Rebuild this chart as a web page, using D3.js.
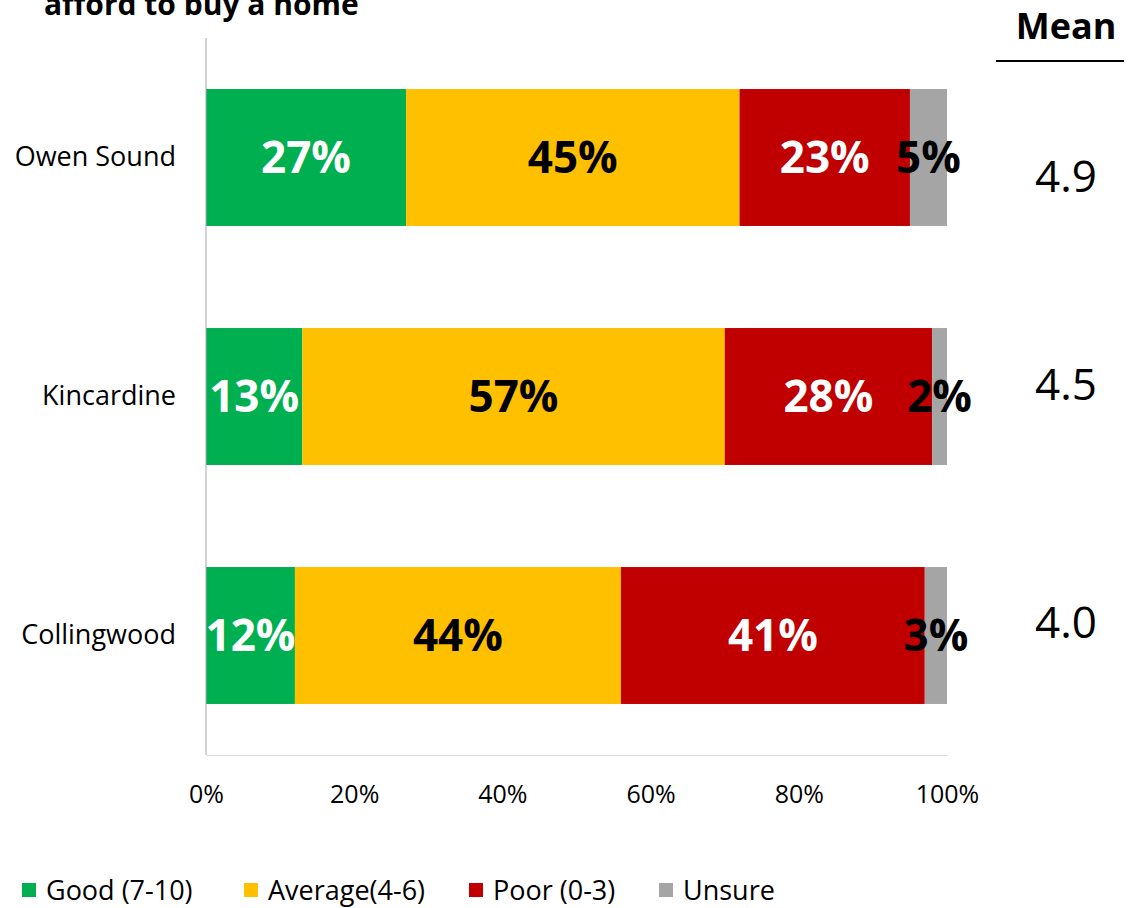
<!DOCTYPE html>
<html>
<head>
<meta charset="utf-8">
<script src="https://cdn.jsdelivr.net/npm/d3@7"></script>
<style>
  html, body { margin: 0; padding: 0; background: #fff; }
  svg { display: block; }
</style>
</head>
<body>
<svg id="chart" width="1137" height="908"></svg>
<script>
const categories = ["Owen Sound", "Kincardine", "Collingwood"];
const seriesNames = ["Good (7-10)", "Average(4-6)", "Poor (0-3)", "Unsure"];
const good = [27, 13, 12];
const average = [45, 57, 44];
const poor = [23, 28, 41];
const unsure = [5, 2, 3];
const means = ["4.9", "4.5", "4.0"];
const tickValues = [0, 20, 40, 60, 80, 100];
const titleLine = "afford to buy a home";

const colors = ["#00B050", "#FFC000", "#C00000", "#A5A5A5"];
const labelColors = ["#ffffff", "#000000", "#ffffff", "#000000"];
const meanOffsets = [19, -12, -13];

const rows = categories.map((c, i) => ({
  cat: c, good: good[i], average: average[i], poor: poor[i], unsure: unsure[i]
}));
const keys = ["good", "average", "poor", "unsure"];
const stacked = d3.stack().keys(keys)(rows);

const svg = d3.select("#chart");
const plotLeft = 206, plotRight = 947, plotTop = 38, plotBottom = 755;

const x = d3.scaleLinear().domain([0, 100]).range([plotLeft, plotRight]);
const y = d3.scaleBand().domain(categories).range([plotTop, plotBottom]).paddingInner(0.427).paddingOuter(0.2135);

// title (partially cut off at top, as in the reference)
svg.append("text")
  .attr("x", 44).attr("y", 15)
  .attr("font-family", "Open Sans, sans-serif")
  .attr("font-weight", "bold")
  .attr("font-size", 30)
  .attr("fill", "#000")
  .text(titleLine);

// bars
const layers = svg.append("g").selectAll("g").data(stacked).join("g")
  .attr("fill", (d, i) => colors[i]);
layers.selectAll("rect").data(d => d).join("rect")
  .attr("x", d => x(d[0]))
  .attr("width", d => x(d[1]) - x(d[0]))
  .attr("y", d => y(d.data.cat))
  .attr("height", y.bandwidth());

// bar labels
stacked.forEach((layer, li) => {
  svg.append("g").selectAll("text").data(layer).join("text")
    .attr("x", d => (x(d[0]) + x(d[1])) / 2)
    .attr("y", d => y(d.data.cat) + y.bandwidth() / 2)
    .attr("dy", "0.36em")
    .attr("text-anchor", "middle")
    .attr("font-family", "Open Sans, sans-serif")
    .attr("font-weight", "bold")
    .attr("font-size", 44)
    .attr("fill", labelColors[li])
    .text(d => (d[1] - d[0]) + "%");
});

// axes
const yAxis = d3.axisLeft(y).tickSize(0).tickPadding(30);
const gy = svg.append("g").attr("transform", `translate(${plotLeft},0)`).call(yAxis);
gy.select(".domain").attr("stroke", "#a6a6a6").attr("stroke-width", 1).attr("d", `M0,${plotTop}V${plotBottom}`);
gy.selectAll("text")
  .attr("font-family", "Open Sans, sans-serif")
  .attr("font-size", 27)
  .attr("fill", "#000");

const xAxis = d3.axisBottom(x).tickValues(tickValues).tickFormat(d => d + "%").tickSize(0).tickPadding(30);
const gx = svg.append("g").attr("transform", `translate(0,${plotBottom})`).call(xAxis);
gx.select(".domain").attr("stroke", "#d9d9d9").attr("stroke-width", 1);
gx.selectAll("text")
  .attr("font-family", "Open Sans, sans-serif")
  .attr("font-size", 25)
  .attr("fill", "#000");

// mean column
svg.append("text")
  .attr("x", 1066).attr("y", 39)
  .attr("text-anchor", "middle")
  .attr("font-family", "Open Sans, sans-serif")
  .attr("font-weight", "bold")
  .attr("font-size", 36)
  .text("Mean");
svg.append("line")
  .attr("x1", 996).attr("x2", 1124).attr("y1", 61).attr("y2", 61)
  .attr("stroke", "#000").attr("stroke-width", 2);

svg.append("g").selectAll("text").data(means).join("text")
  .attr("x", 1066)
  .attr("y", (d, i) => y(categories[i]) + y.bandwidth() / 2 + meanOffsets[i])
  .attr("dy", "0.36em")
  .attr("text-anchor", "middle")
  .attr("font-family", "Open Sans, sans-serif")
  .attr("font-size", 44)
  .attr("fill", "#000")
  .text(d => d);

// legend
const legendX = [22, 244, 469, 659];
const lg = svg.append("g").selectAll("g").data(seriesNames).join("g")
  .attr("transform", (d, i) => `translate(${legendX[i]},890)`);
lg.append("rect").attr("x", 0).attr("y", -7).attr("width", 14).attr("height", 14)
  .attr("fill", (d, i) => colors[i]);
lg.append("text").attr("x", 24).attr("y", 0).attr("dy", "0.36em")
  .attr("font-family", "Open Sans, sans-serif")
  .attr("font-size", 27)
  .attr("fill", "#000")
  .text(d => d);
</script>
</body>
</html>
